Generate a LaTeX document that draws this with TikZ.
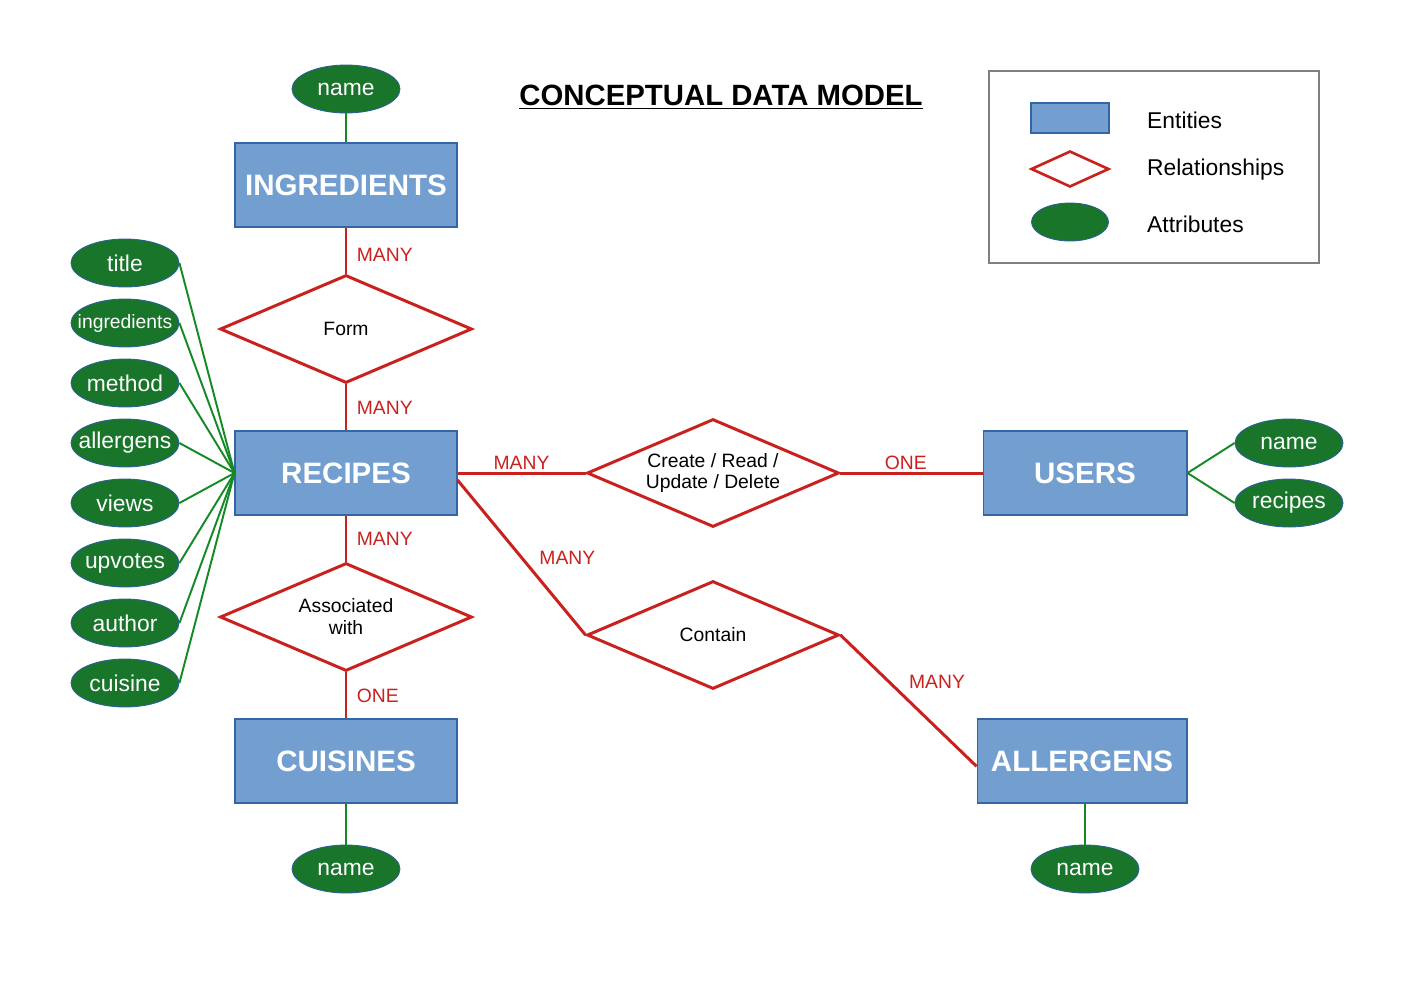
\documentclass[tikz,border=0pt]{standalone}
\usepackage{fontspec}
\setmainfont{Liberation Sans}
\usepackage{xcolor}
\usetikzlibrary{arrows.meta, positioning, shapes.geometric}

\definecolor{entfill}{HTML}{729FCF}
\definecolor{entline}{HTML}{3465A4}
\definecolor{relred}{HTML}{C9211E}
\definecolor{attrgreen}{HTML}{18752A}
\definecolor{attrline}{HTML}{2A6099}

\begin{document}
\begin{tikzpicture}[
    x=0.02cm, y=-0.02cm,
    entity/.style={draw=entline, line width=0.6pt, fill=entfill, minimum width=4.44cm,
                   minimum height=1.68cm, inner sep=0pt, text=white,
                   font=\fontsize{16.8}{20}\selectfont\bfseries},
    rel/.style={diamond, aspect=2.33, draw=relred, line width=1.7pt, fill=white,
                minimum width=5.04cm, minimum height=2.16cm, inner sep=0pt, align=center,
                font=\fontsize{11}{12.5}\selectfont},
    attr/.style={ellipse, draw=attrline, line width=0.5pt, fill=attrgreen,
                 minimum width=2.16cm, minimum height=0.96cm, inner sep=0pt},
    attrtxt/.style={text=white, font=\fontsize{13}{15}\selectfont, inner sep=0pt},
    relline/.style={draw=relred, line width=1.7pt},
    attrline/.style={draw=attrgreen!85!green, line width=1.1pt},
    card/.style={text=relred, font=\fontsize{11}{13}\selectfont},
    legtxt/.style={anchor=west, font=\fontsize{13}{15}\selectfont},
]
\useasboundingbox (0,0) rectangle (1403,992);

% title and legend
\node[font=\fontsize{16.7}{20}\selectfont\bfseries] (title) at (721,97)
    {\underline{CONCEPTUAL DATA MODEL}};
\node[draw=black!50, line width=0.8pt, minimum width=6.6cm, minimum height=3.84cm] (legend)
    at (1154,167) {};
\node[draw=entline, line width=0.6pt, fill=entfill, minimum width=1.56cm, minimum height=0.6cm]
    (legent) at (1070,118) {};
\node[diamond, draw=relred, line width=1.5pt, minimum width=1.56cm, minimum height=0.72cm,
      inner sep=0pt] (legrel) at (1070,169) {};
\node[attr, minimum width=1.54cm, minimum height=0.76cm] (legattr) at (1070,222) {};
\node[legtxt] (legentt) at (1141,120) {Entities};
\node[legtxt] (legrelt) at (1141,170) {Relationships};
\node[legtxt] (legattrt) at (1141,224) {Attributes};

% entities
\node[entity] (ing) at (346,185) {INGREDIENTS};
\node[entity] (rec) at (346,473) {RECIPES};
\node[entity] (cui) at (346,761) {CUISINES};
\node[entity, minimum width=4.08cm] (usr) at (1085,473) {USERS};
\node[entity, minimum width=4.2cm] (alg) at (1082,761) {ALLERGENS};

% relationships
\node[rel] (form) at (346,329) {Form};
\node[rel] (assoc) at (346,617) {Associated\\with};
\node[rel] (crud) at (713,473) {Create / Read /\\Update / Delete};
\node[rel] (contain) at (713,635) {Contain};

% attributes
\node[attr, label={[attrtxt]center:name}] (ingname) at (346,89) {};
\node[attr, label={[attrtxt]center:name}] (cuiname) at (346,869) {};
\node[attr, label={[attrtxt]center:name}] (algname) at (1085,869) {};
\node[attr, label={[attrtxt]center:name}] (usrname) at (1289,443) {};
\node[attr, label={[attrtxt]center:recipes}] (usrrec) at (1289,503) {};
\node[attr, label={[attrtxt]center:title}] (rtitle) at (125,263) {};
\node[attr, label={[attrtxt, font=\fontsize{11}{13}\selectfont]center:ingredients}] (ring) at (125,323) {};
\node[attr, label={[attrtxt]center:method}] (rmeth) at (125,383) {};
\node[attr, label={[attrtxt]center:allergens}] (ralg) at (125,443) {};
\node[attr, label={[attrtxt]center:views}] (rviews) at (125,503) {};
\node[attr, label={[attrtxt]center:upvotes}] (rup) at (125,563) {};
\node[attr, label={[attrtxt]center:author}] (rauth) at (125,623) {};
\node[attr, label={[attrtxt]center:cuisine}] (rcui) at (125,683) {};

% attribute links
\draw[attrline] (ingname.south) -- (ing.north);
\draw[attrline] (cui.south) -- (cuiname.north);
\draw[attrline] (alg.south -| algname.north) -- (algname.north);
\draw[attrline] (usr.east) -- (usrname.west);
\draw[attrline] (usr.east) -- (usrrec.west);
\draw[attrline] (rtitle.east) -- (rec.west);
\draw[attrline] (ring.east) -- (rec.west);
\draw[attrline] (rmeth.east) -- (rec.west);
\draw[attrline] (ralg.east) -- (rec.west);
\draw[attrline] (rviews.east) -- (rec.west);
\draw[attrline] (rup.east) -- (rec.west);
\draw[attrline] (rauth.east) -- (rec.west);
\draw[attrline] (rcui.east) -- (rec.west);

% relationship links
\draw[relline] (ing.south) -- node[card, right, pos=0.6, xshift=2pt] {MANY} (form.north);
\draw[relline] (form.south) -- node[card, right, pos=0.5, xshift=2pt] {MANY} (rec.north);
\draw[relline] (rec.south) -- node[card, right, pos=0.5, xshift=2pt] {MANY} (assoc.north);
\draw[relline] (assoc.south) -- node[card, right, pos=0.5, xshift=2pt] {ONE} (cui.north);
\draw[relline] (rec.east) -- node[card, above, pos=0.5, inner sep=1pt] {MANY} (crud.west);
\draw[relline] (crud.east) -- node[card, above, pos=0.46, inner sep=1pt] {ONE} (usr.west);
\draw[relline] ([yshift=-4pt]rec.east) -- node[card, right, pos=0.5, xshift=6pt] {MANY} (contain.west);
\draw[relline] (contain.east) -- node[card, right, pos=0.36, xshift=7pt] {MANY} ([yshift=-3pt]alg.west);

\end{tikzpicture}
\end{document}
